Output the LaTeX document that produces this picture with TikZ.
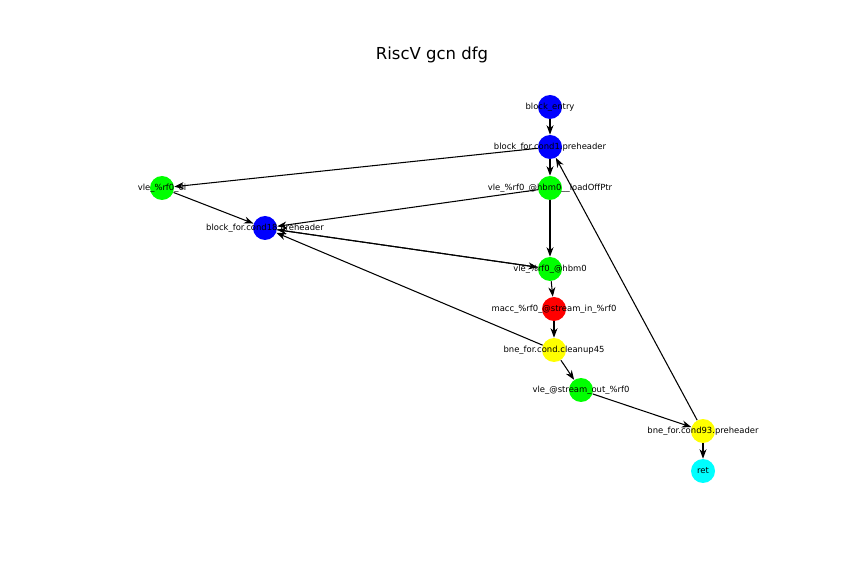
\documentclass[tikz,border=0pt]{standalone}
\usepackage{fontspec}
\setmainfont{DejaVu Sans}
\usetikzlibrary{arrows.meta,positioning}
\definecolor{dfgblue}{RGB}{0,0,255}
\definecolor{dfggreen}{RGB}{0,255,0}
\definecolor{dfgred}{RGB}{255,0,0}
\definecolor{dfgyellow}{RGB}{255,255,0}
\definecolor{dfgcyan}{RGB}{0,255,255}
\tikzset{
  dfgnode/.style={circle, minimum size=0.48cm, inner sep=0pt, fill=#1},
  dfglabel/.style={inner sep=0pt, font=\fontsize{4.8}{5.5}\selectfont},
  dfgedge/.style={-{Stealth[length=5.4pt,width=4pt]}, line width=0.6pt}
}

\begin{document}
\begin{tikzpicture}[x=0.02cm, y=-0.02cm]
    \useasboundingbox (0,0) rectangle (844,573);

    % Title
    \node[font=\fontsize{9.4}{11}\selectfont] (title) at (432,55) {RiscV gcn dfg};

    % Nodes
    \node[dfgnode=dfgblue] (bentry) at (550,107) {};
    \node[dfgnode=dfgblue] (bcond1) at (550,147) {};
    \node[dfgnode=dfggreen] (vloadptr) at (550,188) {};
    \node[dfgnode=dfggreen] (vrfi) at (162,188) {};
    \node[dfgnode=dfgblue] (bcond18) at (265,228) {};
    \node[dfgnode=dfggreen] (vhbm) at (550,269) {};
    \node[dfgnode=dfgred] (macc) at (554,309) {};
    \node[dfgnode=dfgyellow] (bnecleanup) at (554,350) {};
    \node[dfgnode=dfggreen] (vstreamout) at (581,390) {};
    \node[dfgnode=dfgyellow] (bnecond93) at (703,431) {};
    \node[dfgnode=dfgcyan] (ret) at (703,471) {};

    % Edges
    \draw[dfgedge] (bentry) -- (bcond1);
    \draw[dfgedge] (bcond1) -- (vloadptr);
    \draw[dfgedge] (bcond1) -- (vrfi);
    \draw[dfgedge] (vloadptr) -- (bcond18);
    \draw[dfgedge] (vrfi) -- (bcond18);
    \draw[dfgedge] (vloadptr) -- (vhbm);
    \draw[dfgedge] (bcond18) -- (vhbm);
    \draw[dfgedge] (vhbm) -- (bcond18);
    \draw[dfgedge] (vhbm) -- (macc);
    \draw[dfgedge] (macc) -- (bnecleanup);
    \draw[dfgedge] (bnecleanup) -- (vstreamout);
    \draw[dfgedge] (bnecleanup) -- (bcond18);
    \draw[dfgedge] (vstreamout) -- (bnecond93);
    \draw[dfgedge] (bnecond93) -- (bcond1);
    \draw[dfgedge] (bnecond93) -- (ret);

    % Labels
    \node[dfglabel] (lentry) at (bentry) {block\_entry};
    \node[dfglabel] (lcond1) at (bcond1) {block\_for.cond1.preheader};
    \node[dfglabel] (lloadptr) at (vloadptr) {vle\_\%rf0\_@hbm0\_\_loadOffPtr};
    \node[dfglabel] (lrfi) at (vrfi) {vle\_\%rf0\_0i};
    \node[dfglabel] (lcond18) at (bcond18) {block\_for.cond18.preheader};
    \node[dfglabel] (lhbm) at (vhbm) {vle\_\%rf0\_@hbm0};
    \node[dfglabel] (lmacc) at (macc) {macc\_\%rf0\_@stream\_in\_\%rf0};
    \node[dfglabel] (lcleanup) at (bnecleanup) {bne\_for.cond.cleanup45};
    \node[dfglabel] (lstreamout) at (vstreamout) {vle\_@stream\_out\_\%rf0};
    \node[dfglabel] (lcond93) at (bnecond93) {bne\_for.cond93.preheader};
    \node[dfglabel] (lret) at (ret) {ret};
\end{tikzpicture}
\end{document}
